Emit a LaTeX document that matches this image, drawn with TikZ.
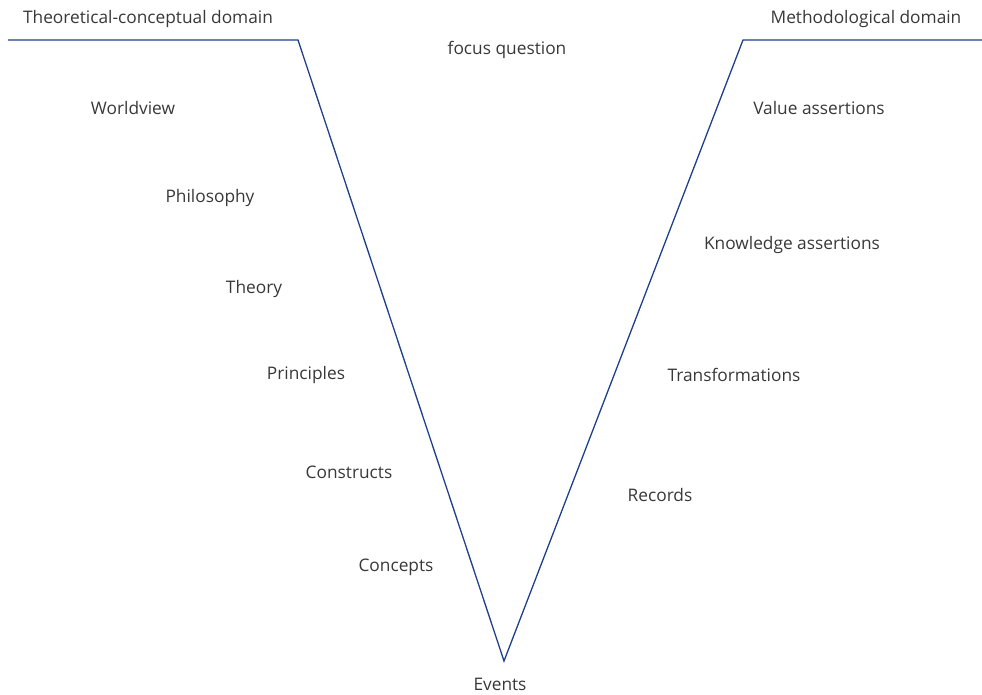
\documentclass[tikz,border=0pt]{standalone}
\usepackage{fontspec}
\setmainfont{Open Sans}
\usepackage{tikz}
\definecolor{color_vee}{HTML}{1F3F8C}
\definecolor{color_text}{HTML}{383838}

\begin{document}
\begin{tikzpicture}[x=1pt, y=-1pt]
  \tikzset{ % Specifications for style of nodes:
      label/.style = {inner sep=0pt, text=color_text, font=\fontsize{17.3}{20}\selectfont},
      vee/.style = {draw=color_vee, line width=1.3pt, line join=miter},
  }
  \useasboundingbox (0,0) rectangle (982,694);
  % corners of the vee
  \coordinate (leftend) at (8,40);
  \coordinate (leftrim) at (298,40);
  \coordinate (bottom) at (504,661);
  \coordinate (rightrim) at (743,40);
  \coordinate (rightend) at (982,40);
  \draw[vee] (leftend) -- (leftrim) -- (bottom) -- (rightrim) -- (rightend);

  \node (theoretical) [label] at (148,19) {Theoretical-conceptual domain};
  \node (methodological) [label] at (866,19) {Methodological domain};
  \node (focus) [label] at (507,50) {focus question};

  \node (worldview) [label] at (133,108) {Worldview};
  \node (philosophy) [label] at (210,198) {Philosophy};
  \node (theory) [label] at (254,289) {Theory};
  \node (principles) [label] at (306,375) {Principles};
  \node (constructs) [label] at (349,472) {Constructs};
  \node (concepts) [label] at (396,567) {Concepts};
  \node (events) [label] at (500,684) {Events};

  \node (value) [label] at (819,108) {Value assertions};
  \node (knowledge) [label] at (792,245) {Knowledge assertions};
  \node (transformations) [label] at (734,375) {Transformations};
  \node (records) [label] at (660,495) {Records};
\end{tikzpicture}
\end{document}
